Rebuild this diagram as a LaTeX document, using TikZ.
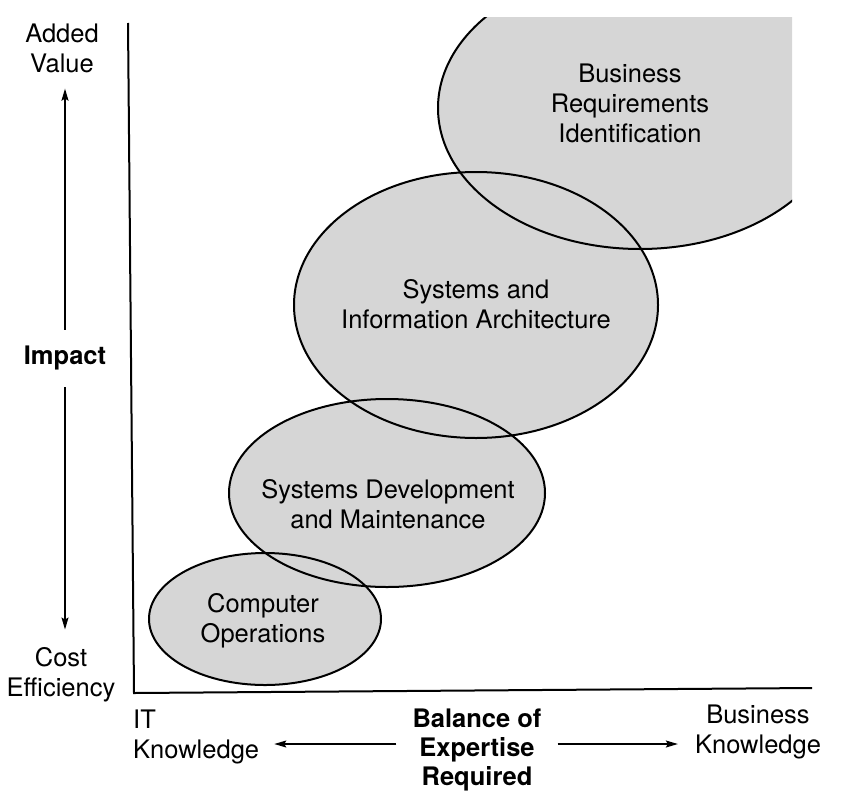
\documentclass[tikz,border=0pt]{standalone}
\usepackage{fontspec}
\setmainfont{TeX Gyre Heros}
\usetikzlibrary{arrows.meta}
\begin{document}
\begin{tikzpicture}[x=1pt,y=-1pt,
  lbl/.style={font=\fontsize{25.5}{30}\selectfont, inner sep=0pt, align=center},
  blbl/.style={lbl, font=\fontsize{25.5}{29}\selectfont\bfseries},
  blob/.style={fill=black!16},
  rim/.style={draw=black, line width=2pt},
  axisline/.style={line width=2pt, line join=miter},
  arr/.style={line width=1.3pt, -{Stealth[length=12pt,width=7pt,inset=2pt]}}]
\useasboundingbox (0,0) rectangle (842,800);

% fills
\begin{scope}
  \clip (0,18) rectangle (792,800);
  \fill[blob] (640,108) ellipse [x radius=202, y radius=141];
\end{scope}
\fill[blob] (476,305) ellipse [x radius=182, y radius=133];
\fill[blob] (387,493) ellipse [x radius=158, y radius=94];
\fill[blob] (265,619) ellipse [x radius=116, y radius=66];

% outlines
\begin{scope}
  \clip (0,18) rectangle (792,800);
  \draw[rim] (640,108) ellipse [x radius=202, y radius=141];
\end{scope}
\draw[rim] (476,305) ellipse [x radius=182, y radius=133];
\draw[rim] (387,493) ellipse [x radius=158, y radius=94];
\draw[rim] (265,619) ellipse [x radius=116, y radius=66];

% axes
\coordinate (ytop) at (128,23);
\coordinate (orig) at (134,693);
\coordinate (xend) at (812,688);
\draw[axisline] (ytop) -- (orig) -- (xend);

% labels
\node[lbl] (added) at (62,48) {Added\\Value};
\node[blbl] (impact) at (65,358) {Impact};
\node[lbl] (cost) at (61,675) {Cost\\Efficiency};
\node[lbl, align=left, anchor=west] (itk) at (133,737) {IT\\Knowledge};
\node[blbl] (balance) at (477,750) {Balance of\\Expertise\\Required};
\node[lbl] (busk) at (758,732) {Business\\Knowledge};

\node[lbl] (co) at (263,621) {Computer\\Operations};
\node[lbl] (sdm) at (388,504) {Systems Development\\and Maintenance};
\node[lbl] (sia) at (476,304) {Systems and\\Information Architecture};
\node[lbl] (br) at (630,103) {Business\\Requirements\\Identification};

% arrows
\draw[arr, shorten <=16pt, shorten >=16pt] (impact.north) -- (impact.north |- added.south);
\draw[arr, shorten <=17pt, shorten >=18pt] (impact.south) -- (impact.south |- cost.north);
\draw[arr, shorten <=16pt, shorten >=15pt] ([yshift=6pt]balance.west) -- ([yshift=6pt]balance.west -| itk.east);
\draw[arr, shorten <=16pt, shorten >=17pt] ([yshift=6pt]balance.east) -- ([yshift=6pt]balance.east -| busk.west);
\end{tikzpicture}
\end{document}
